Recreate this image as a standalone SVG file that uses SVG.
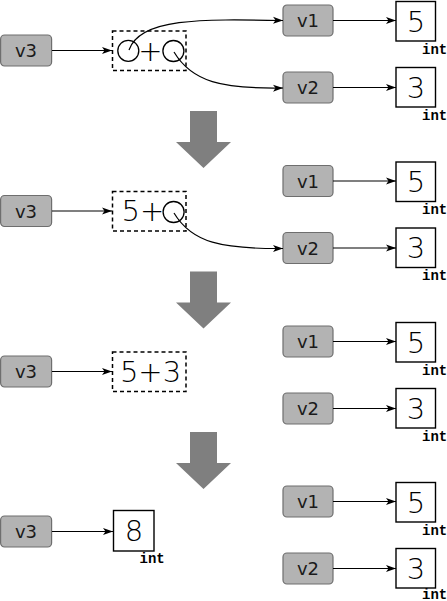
<svg xmlns="http://www.w3.org/2000/svg" width="447" height="601" viewBox="0 0 447 601">
<style>
.var rect{fill:#b3b3b3;stroke:#6e6e6e;stroke-width:1.2}
.var text{font-family:"DejaVu Sans","Liberation Sans",sans-serif;font-size:18px;fill:#1a1a1a;text-anchor:middle}
.val rect{fill:#fff;stroke:#000;stroke-width:1.4}
.big{font-family:"DejaVu Sans","Liberation Sans",sans-serif;font-weight:200;font-size:29px;fill:#000;text-anchor:middle}
.ty{font-family:"Liberation Mono","DejaVu Sans Mono",monospace;font-weight:bold;font-size:14px;fill:#000}
.expr rect{fill:none;stroke:#000;stroke-width:1.5;stroke-dasharray:4,3}
.hole{fill:none;stroke:#000;stroke-width:1.3}
.con line,.con path{fill:none;stroke:#000;stroke-width:1.2;marker-end:url(#ah)}
.step{fill:#7f7f7f}
</style>
<defs>
<marker id="ah" viewBox="0 0 10 8" refX="10" refY="4" markerWidth="10" markerHeight="8" orient="auto" markerUnits="userSpaceOnUse">
<path d="M0,0.5 L10,4 L0,7.5 L2.5,4 Z" fill="#000"/>
</marker>
</defs>

<!-- Panel 1 -->
<g id="p1-v3" class="var"><rect x="0.6" y="35" width="51" height="31" rx="4"/><text x="26" y="57">v3</text></g>
<g id="p1-expr" class="expr"><rect x="112.5" y="31" width="73.5" height="39.5"/>
<circle class="hole" cx="128.3" cy="50.8" r="10.5"/><text class="big" x="150.5" y="60.5">+</text><circle class="hole" cx="173.4" cy="51" r="10.5"/></g>
<g id="p1-v1" class="var"><rect x="283" y="5" width="50" height="31" rx="4"/><text x="308" y="27">v1</text></g>
<g id="p1-v2" class="var"><rect x="283" y="72" width="50" height="31" rx="4"/><text x="308" y="94">v2</text></g>
<g id="p1-int5" class="val"><rect x="396" y="1.5" width="39.5" height="39.5"/><text class="big" x="416" y="31.5">5</text><text class="ty" x="422" y="53.5">int</text></g>
<g id="p1-int3" class="val"><rect x="396" y="67.5" width="39.5" height="39.5"/><text class="big" x="416" y="97.5">3</text><text class="ty" x="422" y="119.5">int</text></g>

<!-- Panel 2 -->
<g id="p2-v3" class="var"><rect x="0.6" y="195.5" width="51" height="31" rx="4"/><text x="26" y="217.5">v3</text></g>
<g id="p2-expr" class="expr"><rect x="112.5" y="191.5" width="73.5" height="39.5"/>
<text class="big" x="121.5" y="221" style="text-anchor:start">5+</text><circle class="hole" cx="173.6" cy="212" r="10.5"/></g>
<g id="p2-v1" class="var"><rect x="283" y="165.5" width="50" height="31" rx="4"/><text x="308" y="187.5">v1</text></g>
<g id="p2-v2" class="var"><rect x="283" y="232.5" width="50" height="31" rx="4"/><text x="308" y="254.5">v2</text></g>
<g id="p2-int5" class="val"><rect x="396" y="162" width="39.5" height="39.5"/><text class="big" x="416" y="192">5</text><text class="ty" x="422" y="214">int</text></g>
<g id="p2-int3" class="val"><rect x="396" y="228" width="39.5" height="39.5"/><text class="big" x="416" y="258">3</text><text class="ty" x="422" y="280">int</text></g>

<!-- Panel 3 -->
<g id="p3-v3" class="var"><rect x="0.6" y="356" width="51" height="31" rx="4"/><text x="26" y="378">v3</text></g>
<g id="p3-expr" class="expr"><rect x="112.5" y="352" width="73.5" height="39.5"/>
<text class="big" x="150.5" y="381.5">5+3</text></g>
<g id="p3-v1" class="var"><rect x="283" y="326" width="50" height="31" rx="4"/><text x="308" y="348">v1</text></g>
<g id="p3-v2" class="var"><rect x="283" y="393" width="50" height="31" rx="4"/><text x="308" y="415">v2</text></g>
<g id="p3-int5" class="val"><rect x="396" y="322.5" width="39.5" height="39.5"/><text class="big" x="416" y="352.5">5</text><text class="ty" x="422" y="374.5">int</text></g>
<g id="p3-int3" class="val"><rect x="396" y="388.5" width="39.5" height="39.5"/><text class="big" x="416" y="418.5">3</text><text class="ty" x="422" y="440.5">int</text></g>

<!-- Panel 4 -->
<g id="p4-v3" class="var"><rect x="0.6" y="516" width="51" height="31" rx="4"/><text x="26" y="538">v3</text></g>
<g id="p4-int8" class="val"><rect x="113.5" y="510.5" width="40.5" height="40.5"/><text class="big" x="134" y="541">8</text><text class="ty" x="139.5" y="563">int</text></g>
<g id="p4-v1" class="var"><rect x="283" y="486" width="50" height="31" rx="4"/><text x="308" y="508">v1</text></g>
<g id="p4-v2" class="var"><rect x="283" y="553" width="50" height="31" rx="4"/><text x="308" y="575">v2</text></g>
<g id="p4-int5" class="val"><rect x="396" y="482.5" width="39.5" height="39.5"/><text class="big" x="416" y="512.5">5</text><text class="ty" x="422" y="534.5">int</text></g>
<g id="p4-int3" class="val"><rect x="396" y="548.5" width="39.5" height="39.5"/><text class="big" x="416" y="578.5">3</text><text class="ty" x="422" y="598.5">int</text></g>

<!-- Step arrows -->
<g id="steps">
<polygon class="step" points="190,111 217,111 217,142 231,142 203.5,168 176,142 190,142"/>
<polygon class="step" points="190,271.5 217,271.5 217,302.5 231,302.5 203.5,328.5 176,302.5 190,302.5"/>
<polygon class="step" points="190,432 217,432 217,463 231,463 203.5,489 176,463 190,463"/>
</g>

<!-- Connectors -->
<g id="connectors" class="con">
<line x1="52" y1="50.5" x2="112" y2="50.5"/>
<path d="M129,50 C140,18 200,19 283,20.5"/>
<path d="M174,52 C192,82 222,89 283,88"/>
<line x1="333" y1="20.5" x2="396" y2="20.5"/>
<line x1="333" y1="87.5" x2="396" y2="87.5"/>

<line x1="52" y1="211" x2="112" y2="211"/>
<path d="M174,213 C192,243 222,249 283,248.5"/>
<line x1="333" y1="181" x2="396" y2="181"/>
<line x1="333" y1="248" x2="396" y2="248"/>

<line x1="52" y1="371.5" x2="112" y2="371.5"/>
<line x1="333" y1="341.5" x2="396" y2="341.5"/>
<line x1="333" y1="408.5" x2="396" y2="408.5"/>

<line x1="52" y1="531.5" x2="113" y2="531.5"/>
<line x1="333" y1="501.5" x2="396" y2="501.5"/>
<line x1="333" y1="568.5" x2="396" y2="568.5"/>
</g>
</svg>
